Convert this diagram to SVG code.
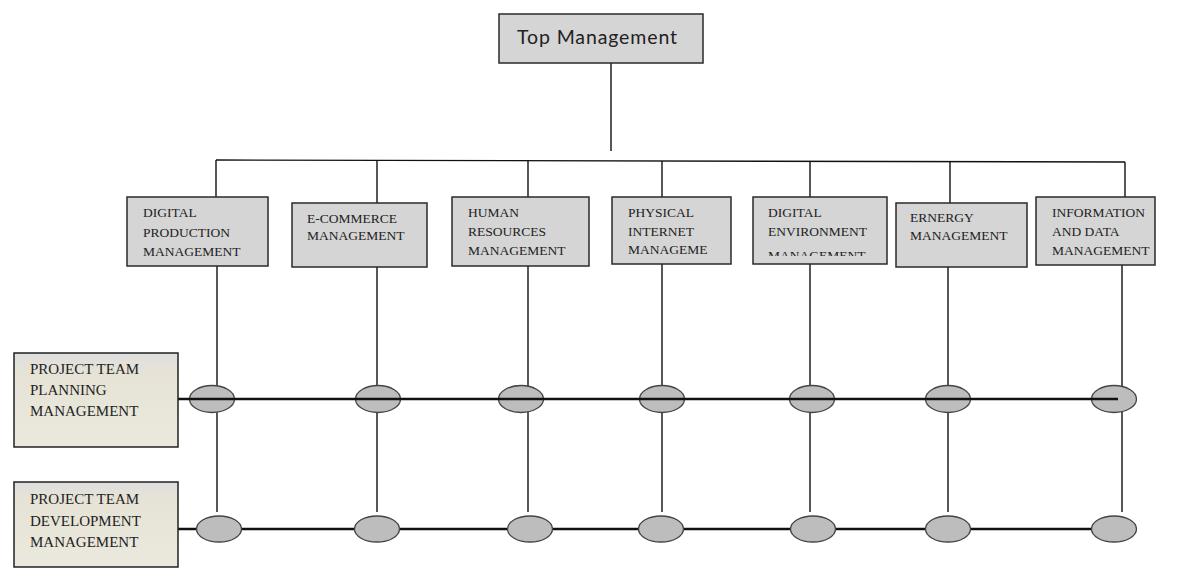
<svg xmlns="http://www.w3.org/2000/svg" width="1186" height="570" viewBox="0 0 1186 570">
<style>
.dept{fill:#d5d5d5;stroke:#2a2a2a;stroke-width:1.5}
.proj{fill:url(#pg);stroke:#222;stroke-width:1.5}
.dt{font-family:"Liberation Serif","DejaVu Serif",serif;font-size:13.5px;fill:#222}
.pt{font-family:"Liberation Serif","DejaVu Serif",serif;font-size:15px;fill:#222}
.conn{stroke:#111;stroke-width:1.4;fill:none}
.bus{stroke:#111;stroke-width:2.6;fill:none}
.oval{fill:#bdbdbd;stroke:#444;stroke-width:1.3}
</style>
<defs>
<linearGradient id="pg" x1="0" y1="0" x2="0" y2="1">
<stop offset="0" stop-color="#dedede"/>
<stop offset="0.2" stop-color="#e6e3d6"/>
<stop offset="1" stop-color="#ebe8dd"/>
</linearGradient>
<clipPath id="c5"><rect x="753" y="197" width="134" height="59"/></clipPath>
</defs>
<rect width="1186" height="570" fill="#ffffff"/>

<g id="connectors">
<line class="conn" x1="611" y1="63" x2="611" y2="151"/>
<line class="conn" x1="216" y1="160" x2="1125" y2="162"/>
<line class="conn" x1="216" y1="160" x2="216" y2="197"/>
<line class="conn" x1="377" y1="160" x2="377" y2="203"/>
<line class="conn" x1="528" y1="160" x2="528" y2="197"/>
<line class="conn" x1="662" y1="161" x2="662" y2="197"/>
<line class="conn" x1="810" y1="161" x2="810" y2="197"/>
<line class="conn" x1="950" y1="161" x2="950" y2="203"/>
<line class="conn" x1="1125" y1="162" x2="1125" y2="197"/>
<line class="conn" x1="217" y1="266" x2="217" y2="512"/>
<line class="conn" x1="377" y1="267" x2="377" y2="512"/>
<line class="conn" x1="528" y1="266" x2="528" y2="512"/>
<line class="conn" x1="662" y1="264" x2="662" y2="512"/>
<line class="conn" x1="810" y1="264" x2="810" y2="512"/>
<line class="conn" x1="948" y1="267" x2="948" y2="512"/>
<line class="conn" x1="1122" y1="265" x2="1122" y2="512"/>
<line class="bus" x1="178" y1="529" x2="1100" y2="529"/>
</g>

<g id="junctions-planning">
<ellipse class="oval" cx="212" cy="399" rx="22.5" ry="13.5"/>
<ellipse class="oval" cx="378" cy="399" rx="22.5" ry="13.5"/>
<ellipse class="oval" cx="521" cy="399" rx="22.5" ry="13.5"/>
<ellipse class="oval" cx="662" cy="399" rx="22.5" ry="13.5"/>
<ellipse class="oval" cx="812" cy="399" rx="22.5" ry="13.5"/>
<ellipse class="oval" cx="948" cy="399" rx="22.5" ry="13.5"/>
<ellipse class="oval" cx="1114" cy="399" rx="22.5" ry="13.5"/>
</g>
<line class="bus" x1="178" y1="399" x2="1118" y2="399"/>

<g id="junctions-development">
<ellipse class="oval" cx="219" cy="529" rx="22.5" ry="13"/>
<ellipse class="oval" cx="377" cy="529" rx="22.5" ry="13"/>
<ellipse class="oval" cx="530" cy="529" rx="22.5" ry="13"/>
<ellipse class="oval" cx="661" cy="529" rx="22.5" ry="13"/>
<ellipse class="oval" cx="813" cy="529" rx="22.5" ry="13"/>
<ellipse class="oval" cx="948" cy="529" rx="22.5" ry="13"/>
<ellipse class="oval" cx="1114" cy="529" rx="22.5" ry="13"/>
</g>

<g id="top">
<rect class="dept" x="499" y="14" width="204" height="49"/>
<text x="517" y="44" font-family="Lato,'Open Sans',sans-serif" font-size="19.5" fill="#222" textLength="160">Top Management</text>
</g>

<g id="n1">
<rect class="dept" x="127" y="197" width="141" height="69"/>
<text class="dt" x="143" y="217">DIGITAL</text>
<text class="dt" x="143" y="237">PRODUCTION</text>
<text class="dt" x="143" y="256">MANAGEMENT</text>
</g>
<g id="n2">
<rect class="dept" x="292" y="203" width="135" height="64"/>
<text class="dt" x="307" y="223">E-COMMERCE</text>
<text class="dt" x="307" y="240">MANAGEMENT</text>
</g>
<g id="n3">
<rect class="dept" x="452" y="197" width="137" height="69"/>
<text class="dt" x="468" y="217">HUMAN</text>
<text class="dt" x="468" y="236">RESOURCES</text>
<text class="dt" x="468" y="255">MANAGEMENT</text>
</g>
<g id="n4">
<rect class="dept" x="612" y="197" width="119" height="67"/>
<text class="dt" x="628" y="217">PHYSICAL</text>
<text class="dt" x="628" y="236">INTERNET</text>
<text class="dt" x="628" y="254">MANAGEME</text>
</g>
<g id="n5">
<rect class="dept" x="753" y="197" width="134" height="67"/>
<text class="dt" x="768" y="217">DIGITAL</text>
<text class="dt" x="768" y="236">ENVIRONMENT</text>
<text class="dt" x="768" y="260" clip-path="url(#c5)">MANAGEMENT</text>
</g>
<g id="n6">
<rect class="dept" x="896" y="203" width="131" height="64"/>
<text class="dt" x="910" y="222">ERNERGY</text>
<text class="dt" x="910" y="240">MANAGEMENT</text>
</g>
<g id="n7">
<rect class="dept" x="1036" y="197" width="119" height="68"/>
<text class="dt" x="1052" y="217">INFORMATION</text>
<text class="dt" x="1052" y="236">AND DATA</text>
<text class="dt" x="1052" y="255">MANAGEMENT</text>
</g>

<g id="planning">
<rect class="proj" x="14" y="353" width="164" height="94"/>
<text class="pt" x="30" y="374">PROJECT TEAM</text>
<text class="pt" x="30" y="395">PLANNING</text>
<text class="pt" x="30" y="416">MANAGEMENT</text>
</g>
<g id="development">
<rect class="proj" x="14" y="482" width="164" height="85"/>
<text class="pt" x="30" y="504">PROJECT TEAM</text>
<text class="pt" x="30" y="526">DEVELOPMENT</text>
<text class="pt" x="30" y="547">MANAGEMENT</text>
</g>
</svg>
